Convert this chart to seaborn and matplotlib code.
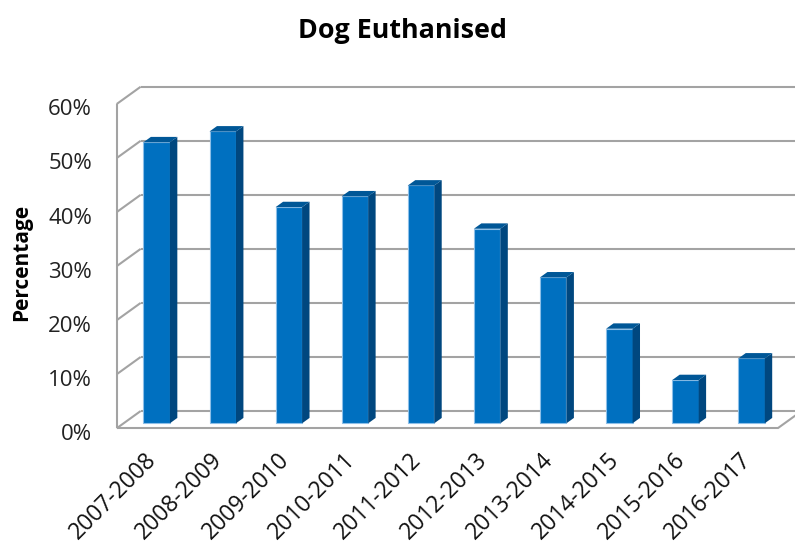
import numpy as np
import pandas as pd
import matplotlib
matplotlib.use("Agg")
import matplotlib.pyplot as plt
import matplotlib.transforms as mtransforms
from matplotlib.patches import Polygon
import seaborn as sns

# Share of dogs euthanised per season
seasons = ["2007-2008", "2008-2009", "2009-2010", "2010-2011", "2011-2012",
           "2012-2013", "2013-2014", "2014-2015", "2015-2016", "2016-2017"]
euthanised_pct = [52, 54, 40, 42, 44, 36, 27, 17.5, 8, 12]
y_ticks = [0, 10, 20, 30, 40, 50, 60]
y_tick_labels = ["0%", "10%", "20%", "30%", "40%", "50%", "60%"]
chart_title = "Dog Euthanised"
y_title = "Percentage"

FRONT = "#0070C0"
SIDE = "#00477F"
TOP = "#005797"
EDGE = "#8DBFE8"
GRID = "#A3A3A3"

sns.set_theme(style="white")
plt.rcParams["font.family"] = ["Open Sans", "DejaVu Sans"]

fig = plt.figure(figsize=(7.95, 5.45), dpi=100)
ax = fig.add_axes([0.1555, 0.2233, 0.8314, 0.5950])

df = pd.DataFrame({"season": seasons, "pct": euthanised_pct})
sns.barplot(data=df, x="season", y="pct", order=seasons, color=FRONT,
            saturation=1, width=0.4, edgecolor=EDGE, linewidth=0.8,
            ax=ax, zorder=3)

ax.set_xlim(-0.5, len(seasons) - 0.5)
ax.set_ylim(y_ticks[0], y_ticks[-1])

# oblique depth of the 3-D box, expressed in data units
p0 = ax.transData.transform((0, 0))
px_x = ax.transData.transform((1, 0))[0] - p0[0]
px_y = ax.transData.transform((0, 1))[1] - p0[1]
depth = np.array([24.0 / px_x, 17.3 / px_y])
front = -0.29 * depth
back = 0.71 * depth
bar_depth = 0.31 * depth

x_lo, x_hi = -0.5, len(seasons) - 0.5
line_kw = dict(color=GRID, lw=1.5, clip_on=False, zorder=1,
               solid_capstyle="butt")

# back wall gridlines and left wall diagonals
for v in y_ticks:
    ax.plot([x_lo + back[0], x_hi + back[0] + 0.5], [v + back[1]] * 2, **line_kw)
    ax.plot([x_lo + front[0], x_lo + back[0]], [v + front[1], v + back[1]], **line_kw)
# left wall front edge
ax.plot([x_lo + front[0]] * 2, [y_ticks[0] + front[1], y_ticks[-1] + front[1]], **line_kw)
# floor front and right edges
ax.plot([x_lo + front[0], x_hi + front[0]], [front[1]] * 2, **line_kw)
ax.plot([x_hi + front[0], x_hi + back[0]], [front[1], back[1]], **line_kw)

# side and top faces of each column
dx, dy = bar_depth
for patch in list(ax.patches):
    x0, w, h = patch.get_x(), patch.get_width(), patch.get_height()
    side = [(x0 + w, 0), (x0 + w + dx, dy), (x0 + w + dx, h + dy), (x0 + w, h)]
    top = [(x0, h), (x0 + dx, h + dy), (x0 + w + dx, h + dy), (x0 + w, h)]
    ax.add_patch(Polygon(side, closed=True, facecolor=SIDE, edgecolor="none",
                         zorder=3, clip_on=False))
    ax.add_patch(Polygon(top, closed=True, facecolor=TOP, edgecolor="none",
                         zorder=3, clip_on=False))
    patch.set_clip_on(False)

for s in ax.spines.values():
    s.set_visible(False)
ax.set_xlabel("")
ax.set_ylabel("")

ax.set_yticks(y_ticks)
ax.set_yticklabels(y_tick_labels, fontsize=16, color="#222222")
ax.set_xticks(range(len(seasons)))
ax.set_xticklabels(seasons, rotation=45, ha="right", va="top",
                   rotation_mode="anchor", fontsize=16.5, color="#111111")
ax.tick_params(axis="y", length=0, pad=22.8)
ax.tick_params(axis="x", length=0, pad=18.5)

y_shift = mtransforms.ScaledTranslation(0, -0.084, fig.dpi_scale_trans)
for lbl in ax.get_yticklabels():
    lbl.set_transform(lbl.get_transform() + y_shift)
x_shift = mtransforms.ScaledTranslation(-0.12, 0.01, fig.dpi_scale_trans)
for lbl in ax.get_xticklabels():
    lbl.set_transform(lbl.get_transform() + x_shift)

fig.text(402 / 795, 1 - 30.5 / 545, chart_title, ha="center", va="center",
         fontsize=19.4, fontweight="bold", color="black")
fig.text(22 / 795, 1 - 262 / 545, y_title, ha="center", va="center",
         rotation=90, fontsize=15, fontweight="bold", color="black")

fig.savefig("out.png", dpi=100, facecolor="white")
